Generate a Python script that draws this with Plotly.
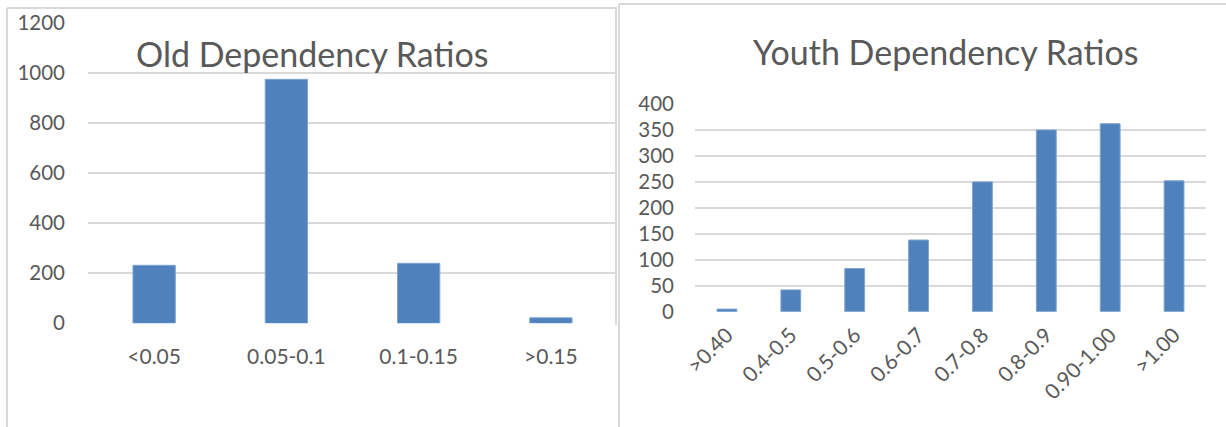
import plotly.graph_objects as go

W, H = 1226, 427

old_cats = ["<0.05", "0.05-0.1", "0.1-0.15", ">0.15"]
old_vals = [232, 976, 240, 22]
old_ticks = [0, 200, 400, 600, 800, 1000, 1200]

youth_cats = [">0.40", "0.4-0.5", "0.5-0.6", "0.6-0.7", "0.7-0.8", "0.8-0.9", "0.90-1.00", ">1.00"]
youth_vals = [5, 42, 83, 138, 250, 350, 362, 252]
youth_ticks = [0, 50, 100, 150, 200, 250, 300, 350, 400]

BAR = "#4F81BD"
TXT = "#595959"
GRID = "#D9D9D9"
FONT = "Lato"

def px(x):
    return x / W

def py(y):
    return 1 - y / H

fig = go.Figure()
fig.add_trace(go.Bar(x=old_cats, y=old_vals, marker=dict(color=BAR, line=dict(color="#7FA3D1", width=1)),
                     width=0.32, xaxis="x", yaxis="y", showlegend=False))
fig.add_trace(go.Bar(x=youth_cats, y=youth_vals, marker=dict(color=BAR, line=dict(color="#7FA3D1", width=1)),
                     width=0.31, xaxis="x2", yaxis="y2", showlegend=False))

shapes = [
    # left chart box
    dict(type="line", xref="paper", yref="paper", x0=px(7), x1=px(7), y0=py(8), y1=py(427), line=dict(color=GRID, width=2)),
    dict(type="line", xref="paper", yref="paper", x0=px(7), x1=px(617), y0=py(8), y1=py(8), line=dict(color=GRID, width=2)),
    dict(type="line", xref="paper", yref="paper", x0=px(616), x1=px(616), y0=py(8), y1=py(325), line=dict(color=GRID, width=2)),
    # right chart box
    dict(type="line", xref="paper", yref="paper", x0=px(619), x1=px(619), y0=py(4), y1=py(427), line=dict(color=GRID, width=2)),
    dict(type="line", xref="paper", yref="paper", x0=px(619), x1=px(1226), y0=py(4), y1=py(4), line=dict(color=GRID, width=2)),
]

axis_common = dict(showline=False, zeroline=False, ticks="", fixedrange=True, automargin=False)

fig.update_layout(
    template="none",
    width=W, height=H,
    margin=dict(l=0, r=0, t=0, b=0, pad=0),
    paper_bgcolor="white", plot_bgcolor="rgba(0,0,0,0)",
    font=dict(family=FONT, color=TXT, size=20),
    shapes=shapes,
    xaxis=dict(domain=[px(88), px(617)], anchor="y", showgrid=False, tickfont=dict(size=21, color=TXT),
               ticklabelstandoff=19, tickangle=0, **axis_common),
    yaxis=dict(domain=[py(323.3), py(23.3)], anchor="x", range=[0, 1200], tickvals=old_ticks,
               showgrid=True, gridcolor=GRID, gridwidth=2, tickfont=dict(size=20.5, color=TXT),
               ticklabelstandoff=22, **axis_common),
    xaxis2=dict(domain=[px(695), px(1206)], anchor="y2", showgrid=False, tickangle=-45,
                tickfont=dict(size=21, color=TXT), ticklabelstandoff=6, **axis_common),
    yaxis2=dict(domain=[py(311.7), py(104)], anchor="x2", range=[0, 400], tickvals=youth_ticks,
                showgrid=True, gridcolor=GRID, gridwidth=2, tickfont=dict(size=20.5, color=TXT),
                ticklabelstandoff=20, **axis_common),
    annotations=[
        dict(text="Old Dependency Ratios", xref="paper", yref="paper", x=px(312), y=py(53),
             xanchor="center", yanchor="middle", showarrow=False, font=dict(size=34, color=TXT, family=FONT)),
        dict(text="Youth Dependency Ratios", xref="paper", yref="paper", x=px(945), y=py(51),
             xanchor="center", yanchor="middle", showarrow=False, font=dict(size=34, color=TXT, family=FONT)),
    ],
)

fig.write_html("out.html")
